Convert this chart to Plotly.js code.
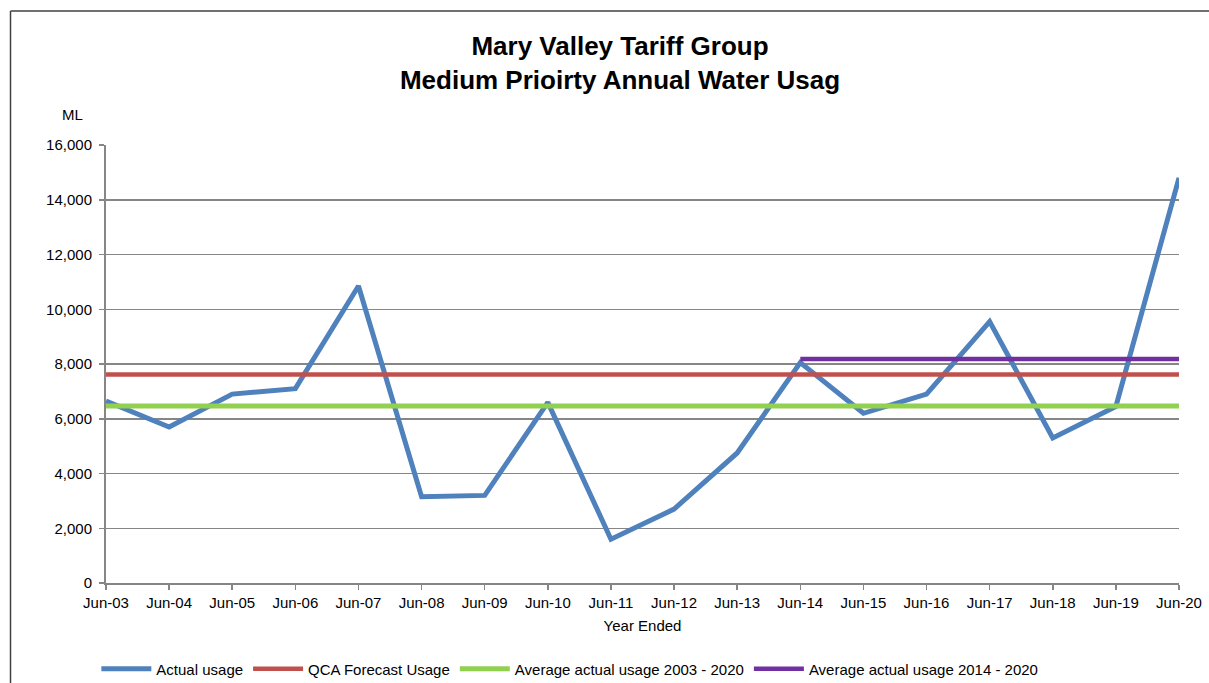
<!DOCTYPE html>
<html>
<head>
<meta charset="utf-8">
<script src="https://cdn.plot.ly/plotly-3.0.1.min.js"></script>
<style>
html,body{margin:0;padding:0;background:#fff;}
#chart{width:1209px;height:683px;}
</style>
</head>
<body>
<div id="chart"></div>
<script>
const years = ["Jun-03","Jun-04","Jun-05","Jun-06","Jun-07","Jun-08","Jun-09","Jun-10","Jun-11","Jun-12","Jun-13","Jun-14","Jun-15","Jun-16","Jun-17","Jun-18","Jun-19","Jun-20"];
const actualUsage = [6650,5700,6900,7100,10850,3150,3200,6600,1600,2700,4750,8050,6200,6900,9550,5300,6450,14800];
const qcaForecast = 7620;
const avg2003_2020 = 6470;
const avg2014_2020 = 8180;
const avgRecentYears = ["Jun-14","Jun-15","Jun-16","Jun-17","Jun-18","Jun-19","Jun-20"];

const traces = [
  {x: years, y: actualUsage, name: "Actual usage", type: "scatter", mode: "lines",
   line: {color: "#4F81BD", width: 5}},
  {x: years, y: years.map(() => qcaForecast), name: "QCA Forecast Usage", type: "scatter", mode: "lines",
   line: {color: "#C0504D", width: 4.5}},
  {x: years, y: years.map(() => avg2003_2020), name: "Average actual usage 2003 - 2020", type: "scatter", mode: "lines",
   line: {color: "#92D050", width: 5}},
  {x: avgRecentYears, y: avgRecentYears.map(() => avg2014_2020), name: "Average actual usage 2014 - 2020", type: "scatter", mode: "lines",
   line: {color: "#7030A0", width: 4.5}}
];

const FAM = "Liberation Sans, Arial, sans-serif";
const font = {family: FAM, size: 15, color: "#000"};

const layout = {
  width: 1209, height: 683,
  margin: {l: 106, r: 30, t: 145, b: 100, autoexpand: false},
  paper_bgcolor: "#fff", plot_bgcolor: "#fff",
  font: font,
  showlegend: true,
  title: {
    text: "<b>Mary Valley Tariff Group<br>Medium Prioirty Annual Water Usag</b>",
    font: {family: FAM, size: 26, color: "#000"},
    x: 620 / 1209, xref: "container", xanchor: "center",
    y: 1 - 55 / 683, yref: "container", yanchor: "middle"
  },
  xaxis: {
    type: "category", range: [0, 17],
    showgrid: false, zeroline: false,
    showline: true, linecolor: "#868686", linewidth: 2,
    ticks: "outside", ticklen: 5, tickcolor: "#868686", tickwidth: 1.5,
    tickfont: font,
    title: {text: "Year Ended", font: font, standoff: 10},
    fixedrange: true
  },
  yaxis: {
    range: [0, 16000], dtick: 2000, tickformat: ",d",
    showgrid: true, gridcolor: "#868686", gridwidth: 1.5,
    zeroline: false,
    showline: true, linecolor: "#868686", linewidth: 2,
    ticks: "outside", ticklen: 5, tickcolor: "#868686", tickwidth: 1.5,
    tickfont: font, ticklabelstandoff: 4,
    fixedrange: true
  },
  legend: {
    orientation: "h", x: -0.009, xanchor: "left", y: (583 - 669) / 438, yanchor: "middle",
    font: font, traceorder: "normal", itemwidth: 50
  },
  annotations: [
    {text: "ML", xref: "paper", yref: "paper", x: (72 - 106) / 1073, y: (583 - 115) / 438,
     xanchor: "center", yanchor: "middle", showarrow: false, font: font}
  ],
  shapes: [
    {type: "line", xref: "paper", yref: "paper", x0: (10.5 - 106) / 1073, x1: (10.5 - 106) / 1073,
     y0: -0.3, y1: (583 - 11) / 438, line: {color: "#404040", width: 1.5}},
    {type: "line", xref: "paper", yref: "paper", x0: (10.5 - 106) / 1073, x1: 1.1,
     y0: (583 - 11) / 438, y1: (583 - 11) / 438, line: {color: "#404040", width: 1.5}}
  ]
};

Plotly.newPlot("chart", traces, layout, {displayModeBar: false, staticPlot: true});
</script>
</body>
</html>
